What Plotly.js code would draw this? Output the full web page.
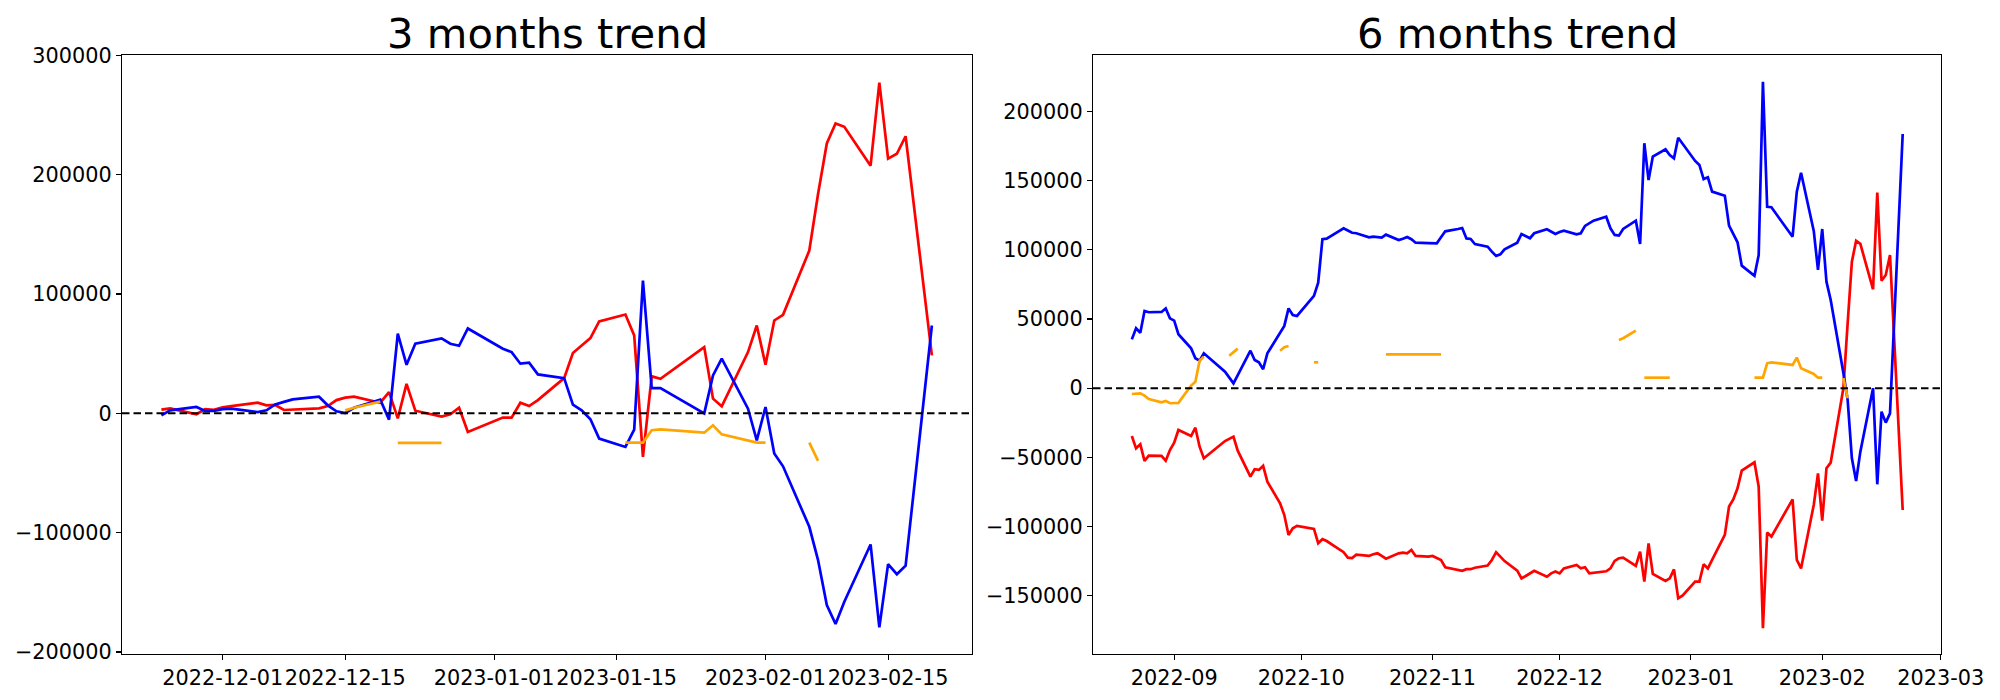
<!DOCTYPE html>
<html>
<head>
<meta charset="utf-8">
<script src="https://cdn.plot.ly/plotly-3.0.1.min.js"></script>
<style>
  html, body { margin: 0; padding: 0; background: #ffffff; }
  #chart { width: 2000px; height: 700px; }
</style>
</head>
<body>
<div id="chart"></div>
<script>
// ---------------- 3 months trend (left) ----------------
const leftRedDates = ["2022-11-24","2022-11-25","2022-11-28","2022-11-29","2022-11-30","2022-12-01","2022-12-02","2022-12-05","2022-12-06","2022-12-07","2022-12-08","2022-12-09","2022-12-12","2022-12-13","2022-12-14","2022-12-15","2022-12-16","2022-12-19","2022-12-20","2022-12-21","2022-12-22","2022-12-23","2022-12-26","2022-12-27","2022-12-28","2022-12-29","2023-01-02","2023-01-03","2023-01-04","2023-01-05","2023-01-06","2023-01-09","2023-01-10","2023-01-11","2023-01-12","2023-01-13","2023-01-16","2023-01-17","2023-01-18","2023-01-19","2023-01-20","2023-01-25","2023-01-26","2023-01-27","2023-01-30","2023-01-31","2023-02-01","2023-02-02","2023-02-03","2023-02-06","2023-02-07","2023-02-08","2023-02-09","2023-02-10","2023-02-13","2023-02-14","2023-02-15","2023-02-16","2023-02-17","2023-02-20"];
const leftRedValues = [3100,4200,-800,3600,3000,5000,6100,8900,6700,7000,2800,3300,4200,6100,11100,13100,13900,8900,17800,-4200,24700,2200,-2800,-800,4700,-15600,-3600,-3600,8900,6100,11100,29500,50500,56900,63000,77000,82800,65300,-36500,31000,29000,55500,12300,5900,51300,73600,40700,77800,82600,136400,183800,226200,242900,240100,207500,277200,213400,217500,232200,48500];

const leftBlueDates = ["2022-11-24","2022-11-25","2022-11-28","2022-11-29","2022-11-30","2022-12-01","2022-12-02","2022-12-05","2022-12-06","2022-12-07","2022-12-08","2022-12-09","2022-12-12","2022-12-13","2022-12-14","2022-12-15","2022-12-16","2022-12-19","2022-12-20","2022-12-21","2022-12-22","2022-12-23","2022-12-26","2022-12-27","2022-12-28","2022-12-29","2023-01-02","2023-01-03","2023-01-04","2023-01-05","2023-01-06","2023-01-09","2023-01-10","2023-01-11","2023-01-12","2023-01-13","2023-01-16","2023-01-17","2023-01-18","2023-01-19","2023-01-20","2023-01-25","2023-01-26","2023-01-27","2023-01-30","2023-01-31","2023-02-01","2023-02-02","2023-02-03","2023-02-06","2023-02-07","2023-02-08","2023-02-09","2023-02-10","2023-02-13","2023-02-14","2023-02-15","2023-02-16","2023-02-17","2023-02-20"];
const leftBlueValues = [-1700,2500,5300,2000,2000,3500,3900,1100,2500,7500,9600,11700,13900,6700,1700,300,4700,11400,-5300,66700,40700,58300,62800,58300,56600,71100,54100,51300,41600,42400,32600,29500,7300,2500,-5000,-21200,-28200,-13700,111300,21200,21200,0,31800,45800,3900,-22600,5300,-33700,-44400,-95100,-123000,-160700,-176600,-157900,-109900,-179400,-126400,-134800,-127700,73600];

const leftOrangeDates = ["2022-12-15","2022-12-16","2022-12-19","2022-12-20","2022-12-21","2022-12-22","2022-12-23","2022-12-26","2022-12-27","2023-01-16","2023-01-17","2023-01-18","2023-01-19","2023-01-20","2023-01-25","2023-01-26","2023-01-27","2023-01-30","2023-01-31","2023-02-01","2023-02-02","2023-02-06","2023-02-07"];
const leftOrangeValues = [2500,4700,9800,null,-24800,-24800,-24800,-24800,null,-24500,-24500,-24500,-14200,-13400,-16200,-10000,-17600,-22900,-24500,-24500,null,-24500,-39900];

const leftXTicks = ["2022-12-01","2022-12-15","2023-01-01","2023-01-15","2023-02-01","2023-02-15"];
const leftXTickText = ["2022-12-01","2022-12-15","2023-01-01","2023-01-15","2023-02-01","2023-02-15"];
const leftYTicks = [-200000,-100000,0,100000,200000,300000];
const leftYTickText = ["\u2212200000","\u2212100000","0","100000","200000","300000"];

// ---------------- 6 months trend (right) ----------------
const rightRedDates = ["2022-08-22","2022-08-23","2022-08-24","2022-08-25","2022-08-26","2022-08-29","2022-08-30","2022-08-31","2022-09-01","2022-09-02","2022-09-05","2022-09-06","2022-09-07","2022-09-08","2022-09-13","2022-09-15","2022-09-16","2022-09-19","2022-09-20","2022-09-21","2022-09-22","2022-09-23","2022-09-26","2022-09-27","2022-09-28","2022-09-29","2022-09-30","2022-10-04","2022-10-05","2022-10-06","2022-10-07","2022-10-11","2022-10-12","2022-10-13","2022-10-14","2022-10-17","2022-10-18","2022-10-19","2022-10-20","2022-10-21","2022-10-24","2022-10-25","2022-10-26","2022-10-27","2022-10-28","2022-10-31","2022-11-01","2022-11-02","2022-11-03","2022-11-04","2022-11-07","2022-11-08","2022-11-09","2022-11-10","2022-11-11","2022-11-14","2022-11-15","2022-11-16","2022-11-17","2022-11-18","2022-11-21","2022-11-22","2022-11-23","2022-11-24","2022-11-25","2022-11-28","2022-11-29","2022-11-30","2022-12-01","2022-12-02","2022-12-05","2022-12-06","2022-12-07","2022-12-08","2022-12-09","2022-12-12","2022-12-13","2022-12-14","2022-12-15","2022-12-16","2022-12-19","2022-12-20","2022-12-21","2022-12-22","2022-12-23","2022-12-26","2022-12-27","2022-12-28","2022-12-29","2022-12-30","2023-01-02","2023-01-03","2023-01-04","2023-01-05","2023-01-06","2023-01-09","2023-01-10","2023-01-11","2023-01-12","2023-01-13","2023-01-16","2023-01-17","2023-01-18","2023-01-19","2023-01-20","2023-01-25","2023-01-26","2023-01-27","2023-01-30","2023-01-31","2023-02-01","2023-02-02","2023-02-03","2023-02-06","2023-02-07","2023-02-08","2023-02-09","2023-02-10","2023-02-13","2023-02-14","2023-02-15","2023-02-16","2023-02-17","2023-02-20"];
const rightRedValues = [-34600,-43500,-40600,-52600,-48800,-49000,-52400,-44700,-39400,-30200,-34600,-28600,-42300,-50700,-38200,-35000,-45200,-64000,-58600,-59100,-56200,-67600,-83200,-91700,-106100,-101300,-99600,-101800,-112100,-109200,-110500,-118600,-122500,-122800,-120400,-121300,-120100,-119400,-121300,-123300,-119400,-118900,-119400,-117000,-121300,-121800,-121300,-122800,-124200,-129500,-131400,-132000,-130900,-130900,-129800,-128300,-124200,-118600,-121800,-125000,-131900,-137500,-135800,-133900,-132000,-136300,-133900,-132600,-133900,-130300,-127800,-130300,-129500,-133900,-133400,-132400,-130300,-124900,-123000,-122500,-128500,-118200,-139900,-112200,-134300,-139400,-137500,-131000,-151900,-150000,-139900,-139900,-127300,-130300,-124200,-106100,-85600,-80400,-72400,-59600,-53600,-71200,-173600,-104400,-107300,-80400,-124200,-130300,-84400,-61600,-95800,-57900,-53800,0,46900,91500,106600,104300,71500,141400,77700,81800,96300,-88100];

const rightBlueDates = ["2022-08-22","2022-08-23","2022-08-24","2022-08-25","2022-08-26","2022-08-29","2022-08-30","2022-08-31","2022-09-01","2022-09-02","2022-09-05","2022-09-06","2022-09-07","2022-09-08","2022-09-13","2022-09-15","2022-09-19","2022-09-20","2022-09-21","2022-09-22","2022-09-23","2022-09-27","2022-09-28","2022-09-29","2022-09-30","2022-10-04","2022-10-05","2022-10-06","2022-10-07","2022-10-11","2022-10-12","2022-10-13","2022-10-14","2022-10-17","2022-10-18","2022-10-19","2022-10-20","2022-10-21","2022-10-24","2022-10-25","2022-10-26","2022-10-27","2022-10-28","2022-10-31","2022-11-01","2022-11-02","2022-11-03","2022-11-04","2022-11-07","2022-11-08","2022-11-09","2022-11-10","2022-11-11","2022-11-14","2022-11-15","2022-11-16","2022-11-17","2022-11-18","2022-11-21","2022-11-22","2022-11-24","2022-11-25","2022-11-28","2022-11-29","2022-11-30","2022-12-01","2022-12-02","2022-12-05","2022-12-06","2022-12-07","2022-12-08","2022-12-09","2022-12-12","2022-12-13","2022-12-14","2022-12-15","2022-12-16","2022-12-19","2022-12-20","2022-12-21","2022-12-22","2022-12-23","2022-12-26","2022-12-27","2022-12-28","2022-12-29","2023-01-02","2023-01-03","2023-01-04","2023-01-05","2023-01-06","2023-01-09","2023-01-10","2023-01-11","2023-01-12","2023-01-13","2023-01-16","2023-01-17","2023-01-18","2023-01-19","2023-01-20","2023-01-25","2023-01-26","2023-01-27","2023-01-30","2023-01-31","2023-02-01","2023-02-02","2023-02-03","2023-02-06","2023-02-07","2023-02-08","2023-02-09","2023-02-10","2023-02-13","2023-02-14","2023-02-15","2023-02-16","2023-02-17","2023-02-20"];
const rightBlueValues = [35300,43300,40100,55800,54900,55100,57700,50500,48800,39000,28800,21600,19900,25200,11900,3500,27100,20400,18700,13700,25200,45000,57700,52900,52200,66700,76300,107700,108100,115600,114000,112400,112000,109100,109600,109300,108800,111000,107100,108100,109300,107700,105200,104900,104700,104700,109100,113400,115100,115800,108300,107900,104200,102300,98700,95600,96800,100400,105200,111500,108400,112000,114900,113000,111500,112900,113900,111300,112000,117300,119200,121100,124000,115600,110800,110300,115100,121100,104300,177100,150500,167400,172700,168600,166200,181100,164300,161400,151200,152500,142100,139200,117500,112000,105500,88600,81300,96300,221600,131200,130800,109500,142100,155800,113700,85500,115100,77000,63800,11000,-8500,-50700,-67100,-45900,0,-69500,-17000,-24900,-18200,183800];

const rightOrangeDates = ["2022-08-22","2022-08-23","2022-08-24","2022-08-25","2022-08-26","2022-08-29","2022-08-30","2022-08-31","2022-09-01","2022-09-02","2022-09-05","2022-09-06","2022-09-07","2022-09-08","2022-09-09","2022-09-14","2022-09-15","2022-09-16","2022-09-19","2022-09-26","2022-09-27","2022-09-28","2022-09-29","2022-10-04","2022-10-05","2022-10-06","2022-10-21","2022-10-24","2022-10-25","2022-10-26","2022-10-27","2022-10-28","2022-10-31","2022-11-01","2022-11-02","2022-11-03","2022-11-04","2022-12-15","2022-12-16","2022-12-19","2022-12-20","2022-12-21","2022-12-22","2022-12-23","2022-12-26","2022-12-27","2022-12-28","2023-01-16","2023-01-17","2023-01-18","2023-01-19","2023-01-20","2023-01-25","2023-01-26","2023-01-27","2023-01-30","2023-01-31","2023-02-01","2023-02-02","2023-02-06","2023-02-07"];
const rightOrangeValues = [-4200,-4200,-3700,-5400,-7800,-10200,-9200,-10900,-10900,-10600,1900,4700,19900,22800,null,23500,26000,28600,null,27100,29600,30500,null,18700,18700,null,24500,24500,24500,24500,24500,24500,24500,24500,24500,24500,null,34800,36100,41600,null,7600,7600,7600,7600,7600,null,7600,7600,7600,18000,18700,16800,22100,14400,10300,7600,7600,null,7300,-7300];

const rightXTicks = ["2022-09-01","2022-10-01","2022-11-01","2022-12-01","2023-01-01","2023-02-01","2023-03-01"];
const rightXTickText = ["2022-09","2022-10","2022-11","2022-12","2023-01","2023-02","2023-03"];
const rightYTicks = [-150000,-100000,-50000,0,50000,100000,150000,200000];
const rightYTickText = ["\u2212150000","\u2212100000","\u221250000","0","50000","100000","150000","200000"];

const titles = ["3 months trend", "6 months trend"];

// ---------------- styling ----------------
const RED = "#ff0000", BLUE = "#0000ff", ORANGE = "#ffa500";
const LW = 2.7;
const FONT = "DejaVu Sans, Liberation Sans, sans-serif";
const W = 2000, H = 700;

function line(x, y, color, xa, ya) {
  return { type: "scatter", mode: "lines", x: x, y: y, xaxis: xa, yaxis: ya,
           line: { color: color, width: LW }, connectgaps: false, hoverinfo: "skip", showlegend: false };
}

const traces = [
  line(leftRedDates, leftRedValues, RED, "x", "y"),
  line(leftBlueDates, leftBlueValues, BLUE, "x", "y"),
  line(leftOrangeDates, leftOrangeValues, ORANGE, "x", "y"),
  line(rightRedDates, rightRedValues, RED, "x2", "y2"),
  line(rightBlueDates, rightBlueValues, BLUE, "x2", "y2"),
  line(rightOrangeDates, rightOrangeValues, ORANGE, "x2", "y2")
];

function axisCommon() {
  return {
    showgrid: false, zeroline: false, showline: true, mirror: true,
    linecolor: "#000000", linewidth: 1.1,
    ticks: "outside", ticklen: 5, tickwidth: 1.1, tickcolor: "#000000",
    tickfont: { family: FONT, size: 20.8, color: "#000000" },
    tickangle: 0,
    automargin: false, fixedrange: true
  };
}

const yTop = 1 - 55 / H, yBot = 1 - 654 / H;

const layout = {
  width: W, height: H,
  margin: { l: 0, r: 0, t: 0, b: 0, pad: 0 },
  paper_bgcolor: "#ffffff", plot_bgcolor: "#ffffff",
  showlegend: false,
  xaxis: Object.assign(axisCommon(), {
    type: "date", domain: [122 / W, 972 / W],
    range: ["2022-11-19 12:00", "2023-02-24 14:00"],
    tickmode: "array", tickvals: leftXTicks, ticktext: leftXTickText, anchor: "y"
  }),
  yaxis: Object.assign(axisCommon(), {
    domain: [yBot, yTop], range: [-201700, 300300],
    tickmode: "array", tickvals: leftYTicks, ticktext: leftYTickText, anchor: "x"
  }),
  xaxis2: Object.assign(axisCommon(), {
    type: "date", domain: [1093 / W, 1941 / W],
    range: ["2022-08-12 20:00", "2023-03-01 01:00"],
    tickmode: "array", tickvals: rightXTicks, ticktext: rightXTickText, anchor: "y2"
  }),
  yaxis2: Object.assign(axisCommon(), {
    domain: [yBot, yTop], range: [-192200, 240900],
    tickmode: "array", tickvals: rightYTicks, ticktext: rightYTickText, anchor: "x2"
  }),
  shapes: [
    { type: "line", xref: "x domain", yref: "y", x0: 0, x1: 1, y0: 0, y1: 0,
      line: { color: "#000000", width: 2, dash: "7.5px,4px" }, layer: "above" },
    { type: "line", xref: "x2 domain", yref: "y2", x0: 0, x1: 1, y0: 0, y1: 0,
      line: { color: "#000000", width: 2, dash: "7.5px,4px" }, layer: "above" }
  ],
  annotations: [
    { text: titles[0], xref: "paper", yref: "paper", x: 547 / W, y: 1 - 33 / H,
      xanchor: "center", yanchor: "middle", showarrow: false,
      font: { family: FONT, size: 41.7, color: "#000000" } },
    { text: titles[1], xref: "paper", yref: "paper", x: 1517 / W, y: 1 - 33 / H,
      xanchor: "center", yanchor: "middle", showarrow: false,
      font: { family: FONT, size: 41.7, color: "#000000" } }
  ]
};

Plotly.newPlot("chart", traces, layout, { staticPlot: true, displayModeBar: false });
</script>
</body>
</html>
